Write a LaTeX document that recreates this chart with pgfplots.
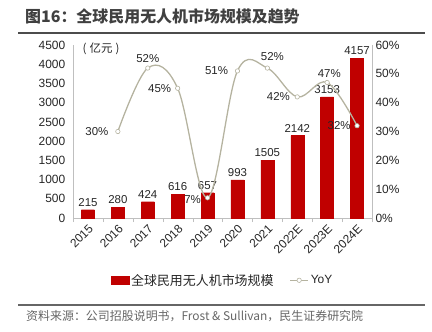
\documentclass[border=0pt]{standalone}
\usepackage{pgfplots}
\pgfplotsset{compat=1.18}
\usepackage{fontspec}
\setmainfont{Liberation Sans}
\newfontfamily\cjk{Noto Sans CJK SC}
\definecolor{barred}{HTML}{C00000}
\definecolor{yoyc}{HTML}{B5B3A0}
\definecolor{axgray}{HTML}{BFBFBF}
\definecolor{txt}{HTML}{262626}
\begin{document}
\begin{tikzpicture}[x=1bp,y=1bp]
\useasboundingbox (0,0) rectangle (432,332);
% title
\node[anchor=west,inner sep=0,text=black!75] at (25,316) {\cjk\bfseries\fontsize{16}{18}\selectfont 图16：全球民用无人机市场规模及趋势};
\draw[black!70,line width=1.6bp] (18,299) -- (425,299);
% footer
\draw[black!60,line width=1.2bp] (18,27) -- (425,27);
\node[anchor=west,inner sep=0,text=black!60] at (26,16) {\cjk\fontsize{12}{14}\selectfont 资料来源：公司招股说明书，Frost \& Sullivan，民生证券研究院};

\begin{axis}[
  at={(73bp,114bp)}, anchor=south west, scale only axis,
  width=299bp, height=173bp,
  xmin=-0.5, xmax=9.5, ymin=0, ymax=4500,
  axis y line*=left, axis x line*=bottom,
  axis line style={axgray},
  xtick={0,...,9},
  xticklabels={2015,2016,2017,2018,2019,2020,2021,2022E,2023E,2024E},
  x tick label style={rotate=45, anchor=north east, font=\fontsize{12}{14}\selectfont, text=txt, inner sep=1pt},
  major x tick style={draw=none},
  minor xtick={-0.5,0.5,...,9.5},
  minor x tick style={axgray},
  minor tick length=4bp,
  tick align=outside,
  ytick={0,500,...,4500},
  major y tick style={draw=none},
  y tick label style={font=\fontsize{12}{14}\selectfont, text=txt},
  /pgf/number format/assume math mode=true,
  /pgf/number format/1000 sep={},
  legend columns=2,
  legend style={draw=none, at={(0.5,-0.36)}, anchor=center, font=\fontsize{12}{14}\selectfont, text=txt,
    /tikz/every even column/.append style={column sep=14bp}},
  clip=false,
]
\addplot[ybar, bar width=13bp, fill=barred, draw=barred,
  nodes near coords,
  every node near coord/.append style={font=\fontsize{11.5}{13}\selectfont, text=txt, /pgf/number format/1000 sep={}},
  legend image code/.code={\fill[barred] (0bp,-4bp) rectangle (18bp,4bp);}] coordinates {
(0,215) (1,280) (2,424) (3,616) (4,657) (5,993) (6,1505) (7,2142) (8,3153) (9,4157)};
\addlegendentry{\cjk\fontsize{13}{15}\selectfont 全球民用无人机市场规模}
\addlegendimage{legend image code/.code={\draw[yoyc, line width=1.2bp] (0bp,0bp) -- (18bp,0bp); \draw[yoyc, fill=white, line width=0.6bp] (9bp,0bp) circle (2.2bp);}}
\addlegendentry{YoY}
\node[anchor=west, font=\cjk\fontsize{11.5}{13}\selectfont, text=txt] at (axis cs:-0.3,4400) {(\;亿元\;)};
\end{axis}

\begin{axis}[
  at={(73bp,114bp)}, anchor=south west, scale only axis,
  width=299bp, height=173bp,
  xmin=-0.5, xmax=9.5, ymin=0, ymax=60,
  axis y line*=right, axis x line=none,
  axis line style={axgray},
  ytick={0,10,...,60},
  yticklabel={\pgfmathprintnumber{\tick}\%},
  major y tick style={draw=none},
  y tick label style={font=\fontsize{12}{14}\selectfont, text=txt},
  /pgf/number format/assume math mode=true,
  clip=false,
]
\addplot[yoyc, line width=1.3bp, smooth, tension=0.6, mark=*, mark size=2.2bp, mark options={fill=white, draw=yoyc, line width=0.6bp}] coordinates {
(1,30) (2,52) (3,45) (4,7) (5,51) (6,52) (7,42) (8,47) (9,32)};
\begin{scope}[every node/.style={font=\fontsize{11.5}{13}\selectfont, text=txt, inner sep=1pt}]
\node at (axis cs:0.3,30) {30\%};
\node at (axis cs:2,55.2) {52\%};
\node at (axis cs:2.4,45) {45\%};
\node at (axis cs:3.5,6.5) {7\%};
\node at (axis cs:4.3,51) {51\%};
\node at (axis cs:6.17,56) {52\%};
\node at (axis cs:6.37,42) {42\%};
\node at (axis cs:8.07,50) {47\%};
\node at (axis cs:8.4,32) {32\%};
\end{scope}
\end{axis}
\end{tikzpicture}
\end{document}
